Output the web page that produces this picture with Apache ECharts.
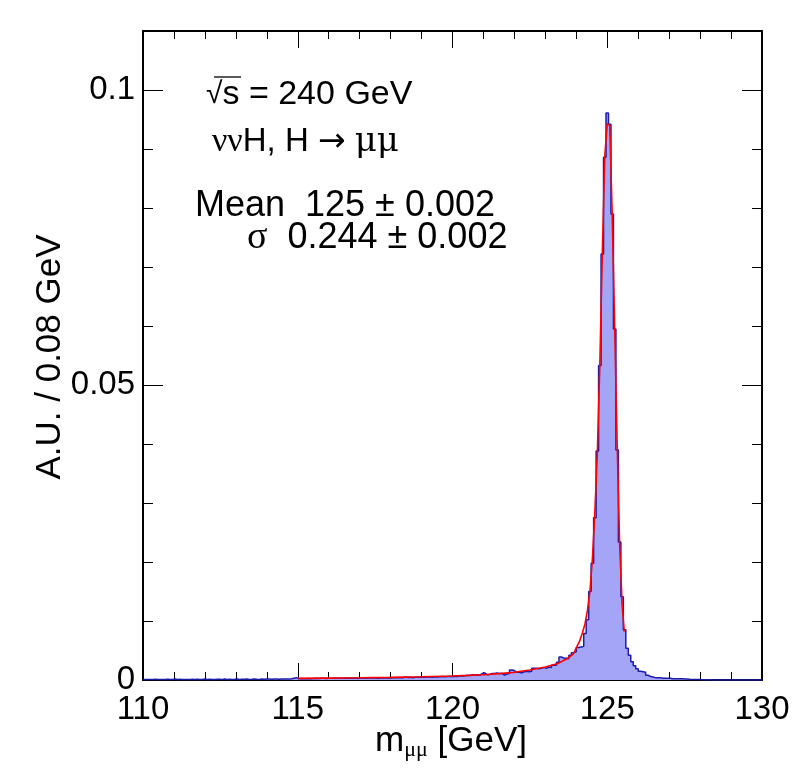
<!DOCTYPE html>
<html><head><meta charset="utf-8">
<script src="https://cdn.jsdelivr.net/npm/echarts@6/dist/echarts.min.js"></script>
<style>html,body{margin:0;padding:0;background:#fff}#c{width:798px;height:774px}</style>
</head><body><div id="c"></div>
<script>
// histogram binning
const binLow = 110;
const binWidth = 0.08;
// bin contents (A.U.), bin k covers [110+0.08k, 110+0.08(k+1)]
const histValues = [
 0.0001,0.0001,0.00008,0.0001,0.00012,0.0001,0.00008,0.0001,0.0001,0.00012,
 0.0001,0.0001,0.00015,0.0001,0.00012,0.0001,0.0001,0.00008,0.0001,0.00012,
 0.0001,0.00012,0.0001,0.0001,0.00015,0.0001,0.00012,0.0001,0.0001,0.00012,
 0.00012,0.0001,0.00015,0.0001,0.00012,0.0001,0.00012,0.00015,0.0001,0.00012,
 0.00012,0.00015,0.0001,0.00012,0.00015,0.00012,0.0001,0.00015,0.00012,0.00015,
 0.00015,0.00012,0.00015,0.00018,0.00012,0.00015,0.00015,0.00018,0.00015,0.0002,
 0.0003,0.0004,0.0002,0.00025,0.0002,0.00022,0.00025,0.0002,0.00025,0.00028,
 0.00025,0.0003,0.00028,0.00025,0.0003,0.00028,0.0003,0.00032,0.0003,0.00028,
 0.0003,0.00032,0.0003,0.00035,0.0003,0.00032,0.0003,0.00035,0.00033,0.0003,
 0.00035,0.00032,0.00038,0.00035,0.0003,0.00035,0.00038,0.00035,0.0004,0.00035,
 0.0004,0.00038,0.00042,0.0004,0.00038,0.0005,0.00042,0.00045,0.0004,0.00045,
 0.00048,0.00045,0.0005,0.00048,0.00052,0.0005,0.00048,0.00055,0.0005,0.00055,
 0.00058,0.00055,0.0006,0.00062,0.00058,0.00065,0.0006,0.0007,0.00068,0.00072,
 0.0008,0.00075,0.0009,0.00085,0.0009,0.0008,0.0011,0.0012,0.0009,0.00095,
 0.0011,0.0011,0.0012,0.0011,0.0011,0.00085,0.0010,0.0011,0.0017,0.0016,
 0.0013,0.0013,0.0012,0.0014,0.0015,0.0014,0.0015,0.0020,0.0020,0.0019,
 0.0020,0.0021,0.0020,0.0022,0.0021,0.0025,0.0025,0.0030,0.0039,0.0037,
 0.0037,0.0036,0.0042,0.0046,0.0048,0.0055,0.0056,0.0057,0.0079,0.0102,
 0.0150,0.0198,0.0275,0.0388,0.0533,0.0722,0.0886,0.0961,0.0942,0.0790,
 0.0595,0.0390,0.0234,0.0141,0.0085,0.0054,0.0042,0.0031,0.0024,0.0019,
 0.0015,0.0014,0.0013,0.0008,0.0006,0.0005,0.0004,0.0004,0.0004,0.0003,
 0.0003,0.0003,0.0003,0.0002,0.0002,0.0002,0.0002,0.0002,0.00015,0.00015,
 0.0001,0.0001,0.0001,0.0001,0.00008,0.00005,0.00005,0.00003,0.00003,0,
 0,0,0,0,0,0,0,0,0,0,
 0,0,0,0,0,0,0,0,0,0
];
// fitted curve
const fitX = [115,116,117,118,119,120,120.5,121,121.5,122,122.5,123,123.4,123.7,123.9,124.1,124.2,124.28,124.36,124.44,124.52,124.6,124.68,124.76,124.84,124.92,125.0,125.08,125.16,125.24,125.32,125.40,125.48,125.55];
const fitY = [0.00028,0.00032,0.00037,0.00044,0.00054,0.00068,0.00078,0.0009,0.00108,0.0013,0.0017,0.0022,0.0028,0.0036,0.0044,0.0065,0.0080,0.0095,0.0118,0.0150,0.0205,0.0285,0.0385,0.0533,0.0722,0.0887,0.0943,0.0940,0.0790,0.0598,0.0400,0.0230,0.0128,0.0082];
// axes
const xMin = 110, xMax = 130, xMajor = 5;
const yMin = 0, yMax = 0.11, yMajor = 0.05, yMinor = 0.01;
const yTickLabels = ['0', '0.05', '0.1'];
// annotation texts
const txtEnergy = 's = 240 GeV';
const txtProcess = ['νν', 'H, H ', '→', ' ', 'μμ'];
const txtMean = 'Mean  125 ± 0.002';
const txtSigma = ['σ', '  0.244 ± 0.002'];
const yTitle = 'A.U. / 0.08 GeV';
const xTitle = ['m', 'μμ', ' [GeV]'];

const SANS = '"Liberation Sans", Arial, Helvetica, sans-serif';
const SERIF = '"Liberation Serif", "Times New Roman", serif';
const DSERIF = '"DejaVu Serif", serif';
const DSANS = '"DejaVu Sans", sans-serif';

const histData = histValues.map((v, k) => [binLow + k * binWidth, v]);
histData.push([binLow + histValues.length * binWidth, histValues[histValues.length - 1]]);
const fitData = fitX.map((x, i) => [x, fitY[i]]);

function yLabel(v) {
  const idx = Math.round(v / yMajor);
  if (Math.abs(v - idx * yMajor) > 1e-9) return '';
  return yTickLabels[idx] || '';
}

const chart = echarts.init(document.getElementById('c'), null, {renderer: 'canvas'});
const axisLine = {show: true, onZero: false, lineStyle: {color: '#000', width: 2}};
const xBase = {
  type: 'value', min: xMin, max: xMax, interval: xMajor,
  axisLine: axisLine, splitLine: {show: false},
  axisTick: {show: true, inside: true, length: 17, lineStyle: {color: '#000', width: 1}},
  minorTick: {show: true, splitNumber: 5, length: 8, lineStyle: {color: '#000', width: 1}},
  minorSplitLine: {show: false}
};
const yMajorAxis = (pos, labels) => ({
  type: 'value', position: pos, min: yMin, max: yMax, interval: yMajor,
  axisLine: axisLine, splitLine: {show: false},
  axisTick: {show: true, inside: true, length: 20, lineStyle: {color: '#000', width: 1}},
  axisLabel: labels ? {show: true, formatter: yLabel, color: '#000', fontSize: 33, fontFamily: SANS, margin: 8, showMaxLabel: false} : {show: false}
});
const yMinorAxis = (pos) => ({
  type: 'value', position: pos, min: yMin, max: yMax, interval: yMinor,
  axisLine: {show: false, onZero: false}, splitLine: {show: false},
  axisTick: {show: true, inside: true, length: 10, lineStyle: {color: '#000', width: 1}},
  axisLabel: {show: false}
});

chart.setOption({
  animation: false,
  backgroundColor: '#fff',
  grid: {left: 143, right: 36, top: 31, bottom: 94, containLabel: false, outerBoundsMode: 'none'},
  xAxis: [
    Object.assign({}, xBase, {position: 'bottom',
      axisLabel: {show: true, color: '#000', fontSize: 33, fontFamily: SANS, margin: 13}}),
    Object.assign({}, xBase, {position: 'top', axisLabel: {show: false}})
  ],
  yAxis: [yMajorAxis('left', true), yMinorAxis('left'), yMajorAxis('right', false), yMinorAxis('right')],
  series: [
    {
      type: 'line', name: 'hist', data: histData, step: 'end', showSymbol: false, symbol: 'none',
      lineStyle: {color: '#1c1ca8', width: 1.5},
      areaStyle: {color: '#a5a5f8', opacity: 1},
      z: 2
    },
    {
      type: 'line', name: 'fit', data: fitData, showSymbol: false, symbol: 'none',
      lineStyle: {color: '#ff0000', width: 1.6},
      z: 3
    }
  ],
  graphic: [
    {type: 'text', x: 206, y: 95, style: {
      text: '{r|√}{n|' + txtEnergy + '}', verticalAlign: 'middle', align: 'left',
      rich: {r: {fontFamily: SANS, fontSize: 30, fill: '#000'}, n: {fontFamily: SANS, fontSize: 34, fill: '#000'}}
    }},
    {type: 'line', shape: {x1: 214, y1: 77, x2: 241, y2: 77}, style: {stroke: '#000', lineWidth: 1.3}},
    {type: 'text', x: 212, y: 142, style: {
      text: '{g|' + txtProcess[0] + '}{n|' + txtProcess[1] + '}{a|' + txtProcess[2] + '}{n|' + txtProcess[3] + '}{u|' + txtProcess[4] + '}',
      verticalAlign: 'middle', align: 'left',
      rich: {
        g: {fontFamily: SERIF, fontSize: 34, fill: '#000'},
        n: {fontFamily: SANS, fontSize: 33, fill: '#000'},
        a: {fontFamily: DSANS, fontSize: 33, fill: '#000'},
        u: {fontFamily: DSERIF, fontSize: 34, fill: '#000'}
      }
    }},
    {type: 'text', x: 195, y: 206, style: {
      text: txtMean, verticalAlign: 'middle', align: 'left', fontFamily: SANS, fontSize: 36, fill: '#000'
    }},
    {type: 'text', x: 247, y: 238, style: {
      text: '{g|' + txtSigma[0] + '}{n|' + txtSigma[1] + '}', verticalAlign: 'middle', align: 'left',
      rich: {g: {fontFamily: SERIF, fontSize: 38, fill: '#000'}, n: {fontFamily: SANS, fontSize: 36, fill: '#000'}}
    }},
    {type: 'text', x: 50, y: 357, rotation: Math.PI / 2, style: {
      text: yTitle, verticalAlign: 'middle', align: 'center', fontFamily: SANS, fontSize: 35, fill: '#000'
    }},
    {type: 'text', x: 375, y: 724, style: {
      text: '{m|' + xTitle[0] + '}{s|' + xTitle[1] + '}{m|' + xTitle[2] + '}', verticalAlign: 'top', align: 'left',
      rich: {
        m: {fontFamily: SANS, fontSize: 35, lineHeight: 36, verticalAlign: 'top', fill: '#000'},
        s: {fontFamily: SERIF, fontSize: 22, lineHeight: 22, padding: [15, 0, 0, 0], verticalAlign: 'top', fill: '#000'}
      }
    }}
  ]
});
</script>
</body></html>
